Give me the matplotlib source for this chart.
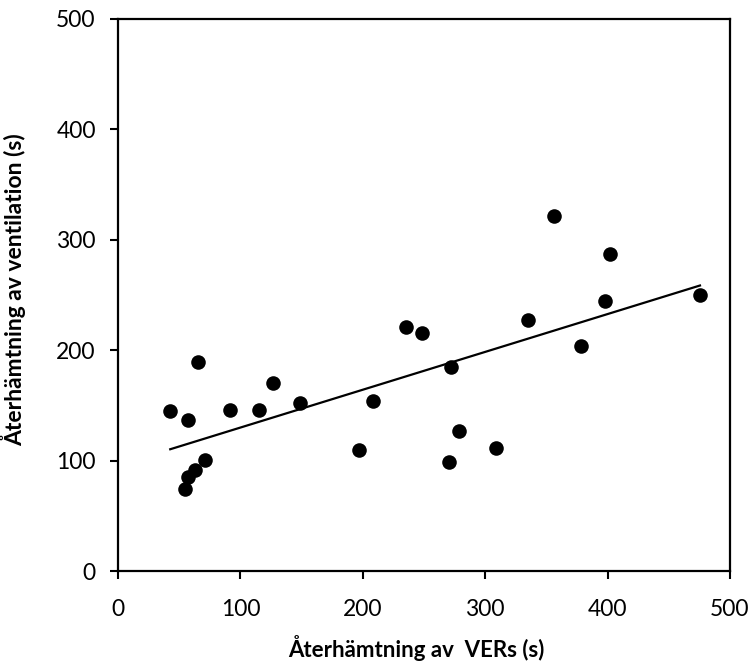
import matplotlib
matplotlib.use("Agg")
import matplotlib.pyplot as plt
import numpy as np

matplotlib.rcParams['font.family'] = ['Lato', 'DejaVu Sans']

# recovery of VERs (x) vs recovery of ventilation (y), seconds
vers_s = [42.7, 57.2, 65.1, 91.2, 115.2, 126.4, 149.0, 71.3, 63.2, 57.5, 55.0,
          196.8, 208.6, 235.3, 248.4, 272.3, 278.6, 270.4, 308.6, 334.7,
          356.5, 378.5, 397.9, 402.2, 475.5]
vent_s = [145.2, 136.8, 189.6, 145.8, 145.8, 170.6, 151.9, 100.5, 91.5, 84.9, 74.3,
          109.2, 154.0, 220.6, 215.6, 184.5, 127.1, 99.0, 111.7, 227.1,
          321.9, 203.8, 244.8, 287.1, 249.7]
ticks = [0, 100, 200, 300, 400, 500]

x = np.array(vers_s)
y = np.array(vent_s)
slope, icpt = np.polyfit(x, y, 1)
xl = np.array([x.min(), x.max()])

fig = plt.figure(figsize=(7.5, 6.66), dpi=100)
ax = fig.add_axes([0.1573, 0.1426, 0.816, 0.829])

ax.scatter(x, y, s=110, color='black', zorder=3, linewidths=0)
ax.plot(xl, slope * xl + icpt, color='black', linewidth=1.6)

ax.set_xlim(0, 500)
ax.set_ylim(0, 500)
ax.set_xticks(ticks)
ax.set_yticks(ticks)
ax.tick_params(direction='out', length=6, width=1.5, labelsize=16.5)
ax.tick_params(axis='x', pad=14)
ax.tick_params(axis='y', pad=10)
for s in ax.spines.values():
    s.set_linewidth(1.6)

ax.set_xlabel('Återhämtning av  VERs (s)', fontsize=16, fontweight='bold')
ax.set_ylabel('Återhämtning av ventilation (s)', fontsize=16.5, fontweight='bold')
ax.xaxis.set_label_coords(0.487, -0.115)
ax.yaxis.set_label_coords(-0.15, 0.51)

plt.savefig('out.png', dpi=100)
